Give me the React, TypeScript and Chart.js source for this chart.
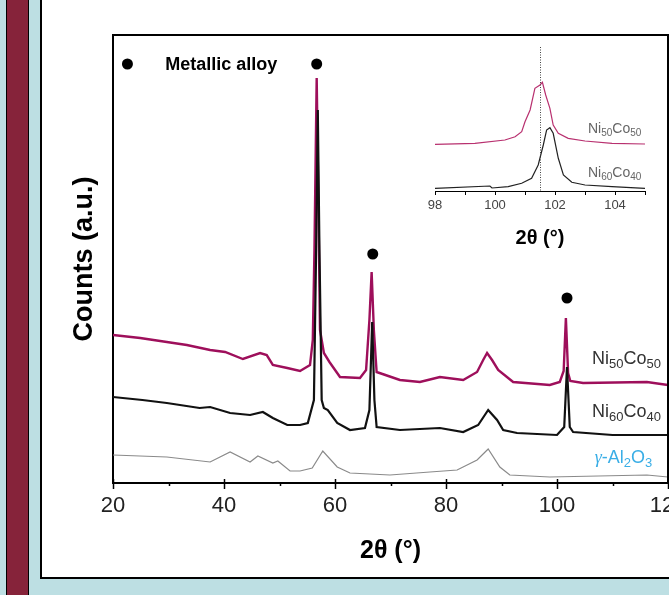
import React, { useEffect, useRef } from "react";
import { Chart, registerables } from "chart.js";

Chart.register(...registerables);

// ---------- Main pattern: 2θ (°) vs counts (a.u.) ----------
const theta5050 = [20, 24.9, 29.7, 33.3, 37.5, 40.2, 43.4, 46.5, 47.7, 48.8, 51.4, 53.7, 55.5, 56.0, 56.3, 56.7, 57.0, 57.3, 58.0, 59.0, 60.9, 64.5, 65.6, 66.2, 66.6, 67.0, 67.5, 71.7, 75.3, 78.9, 83.1, 85.6, 86.7, 87.4, 88.3, 89.4, 92.1, 98.7, 100.5, 101.2, 101.6, 102.0, 102.4, 104.7, 116.2, 120];
const counts5050 = [148, 145, 141, 138, 133, 131, 124, 130, 128, 118, 115, 112, 118, 143, 233, 405, 283, 153, 130, 121, 106, 105, 113, 163, 211, 153, 111, 103, 101, 106, 103, 111, 123, 130, 123, 113, 101, 98, 101, 112, 165, 110, 102, 100, 101, 98];

const theta6040 = [20, 25.3, 29.7, 35.6, 37.5, 41.1, 44.7, 47.0, 48.8, 51.4, 53.7, 55.1, 56.2, 56.6, 56.9, 57.2, 57.6, 58.0, 58.7, 60.4, 62.7, 65.4, 66.2, 66.7, 67.1, 67.5, 71.7, 78.9, 83.1, 85.8, 87.6, 89.2, 90.3, 92.8, 100.0, 101.3, 101.8, 102.3, 102.9, 110, 120];
const counts6040 = [86, 83, 80, 75, 76, 70, 68, 71, 65, 58, 58, 60, 83, 233, 373, 233, 83, 75, 73, 60, 53, 55, 73, 161, 83, 56, 53, 55, 51, 58, 73, 63, 53, 50, 48, 56, 116, 56, 51, 48, 48];

const thetaAl2O3 = [20, 29.7, 37.5, 41.1, 44.7, 46.1, 48.8, 49.7, 51.9, 53.7, 55.9, 57.8, 60.4, 62.7, 69.9, 77.1, 82.0, 85.6, 87.6, 89.7, 91.5, 98.7, 116.2, 120];
const countsAl2O3 = [28, 26, 21, 31, 21, 27, 20, 22, 12, 12, 15, 32, 16, 10, 8, 11, 13, 23, 34, 16, 8, 6, 8, 6];

const alloyMarkTheta = [22.6, 56.7, 66.8, 101.8];
const alloyMarkCounts = [419, 419, 229, 185];

const mainMajorTicks = [20, 40, 60, 80, 100, 120];
const mainMinorTicks = [30, 50, 70, 90, 110];

// ---------- Inset: 98–105° region ----------
const insetTheta5050 = [98, 99.33, 100.33, 100.67, 100.89, 101.0, 101.17, 101.33, 101.5, 101.58, 101.69, 101.83, 101.94, 102.11, 102.44, 103.0, 103.9, 105];
const insetCounts5050 = [46.7, 47.7, 51, 54.3, 59.3, 69.3, 81, 102.7, 106, 108.7, 96, 82.7, 66, 57.7, 52.7, 50, 47.7, 47];

const insetTheta6040 = [98, 99.83, 99.9, 100.44, 100.89, 101.22, 101.44, 101.61, 101.72, 101.83, 101.94, 102.11, 102.28, 102.56, 103.0, 103.9, 105];
const insetCounts6040 = [2.7, 5, 3, 4.3, 7.7, 12.7, 26, 46, 61, 63.3, 57.7, 32.7, 16, 8.7, 6, 4.3, 2.7];

const insetLabelTicks = [98, 100, 102, 104];
const insetRefTheta = 101.5;

const SANS = "'Liberation Sans', Arial, sans-serif";
const SERIF = "'Liberation Serif', 'Times New Roman', serif";

type Seg = { t: string; sub?: boolean; italic?: boolean; serif?: boolean };

function drawRich(ctx: CanvasRenderingContext2D, segs: Seg[], x: number, cy: number, size: number, subSize: number, color: string) {
  let cx = x;
  const base = cy + size * 0.358;
  ctx.fillStyle = color;
  ctx.textBaseline = "alphabetic";
  ctx.textAlign = "left";
  for (const s of segs) {
    const fs = s.sub ? subSize : size;
    ctx.font = `${s.italic ? "italic " : ""}${fs}px ${s.serif ? SERIF : SANS}`;
    const y = s.sub ? base + size * 0.2 : base;
    ctx.fillText(s.t, cx, y);
    cx += ctx.measureText(s.t).width;
  }
}

const pts = (xs: number[], ys: number[]) => xs.map((x, i) => ({ x, y: ys[i] }));

export default function App() {
  const mainRef = useRef<HTMLCanvasElement>(null);
  const insetRef = useRef<HTMLCanvasElement>(null);

  useEffect(() => {
    const mainDeco = {
      id: "mainDeco",
      afterDraw(chart: any) {
        const { ctx, chartArea: a, scales } = chart;
        const x = scales.x;
        const y = scales.y;
        ctx.save();
        ctx.strokeStyle = "#000";
        ctx.lineWidth = 2;
        ctx.beginPath();
        ctx.moveTo(a.left - 1, a.top);
        ctx.lineTo(a.right, a.top);
        ctx.lineTo(a.right, a.bottom);
        ctx.stroke();
        ctx.lineWidth = 1.5;
        for (const v of mainMajorTicks) {
          const px = Math.round(x.getPixelForValue(v)) + 0.5;
          ctx.beginPath();
          ctx.moveTo(px, a.bottom - 4);
          ctx.lineTo(px, a.bottom + 6);
          ctx.stroke();
        }
        for (const v of mainMinorTicks) {
          const px = Math.round(x.getPixelForValue(v)) + 0.5;
          ctx.beginPath();
          ctx.moveTo(px, a.bottom);
          ctx.lineTo(px, a.bottom + 3);
          ctx.stroke();
        }
        ctx.font = `bold 18px ${SANS}`;
        ctx.fillStyle = "#000";
        ctx.textBaseline = "middle";
        ctx.textAlign = "left";
        ctx.fillText("Metallic alloy", x.getPixelForValue(29.4), y.getPixelForValue(418));

        drawRich(ctx, [{ t: "Ni" }, { t: "50", sub: true }, { t: "Co" }, { t: "50", sub: true }],
          x.getPixelForValue(106.3), y.getPixelForValue(125), 18, 13, "#333");
        drawRich(ctx, [{ t: "Ni" }, { t: "60", sub: true }, { t: "Co" }, { t: "40", sub: true }],
          x.getPixelForValue(106.3), y.getPixelForValue(72), 18, 13, "#333");
        drawRich(ctx, [{ t: "γ", italic: true, serif: true }, { t: "-Al" }, { t: "2", sub: true }, { t: "O" }, { t: "3", sub: true }],
          x.getPixelForValue(106.8), y.getPixelForValue(26), 18, 13, "#3aaee6");
        ctx.restore();
      },
    };

    const main = new Chart(mainRef.current!, {
      type: "line",
      data: {
        datasets: [
          {
            data: pts(alloyMarkTheta, alloyMarkCounts),
            showLine: false,
            pointRadius: 5.5,
            pointBackgroundColor: "#000",
            pointBorderColor: "#000",
            pointBorderWidth: 0,
          },
          {
            data: pts(theta6040, counts6040),
            borderColor: "#111",
            borderWidth: 2.2,
            pointRadius: 0,
            tension: 0,
          },
          {
            data: pts(theta5050, counts5050),
            borderColor: "#9e0f5b",
            borderWidth: 2.4,
            pointRadius: 0,
            tension: 0,
          },
          {
            data: pts(thetaAl2O3, countsAl2O3),
            borderColor: "#8a8a8a",
            borderWidth: 1.2,
            pointRadius: 0,
            tension: 0,
          },
        ],
      },
      options: {
        responsive: false,
        animation: false,
        events: [],
        layout: { padding: { left: 68.8, top: 35, right: 52, bottom: 29 } },
        plugins: { legend: { display: false }, tooltip: { enabled: false } },
        scales: {
          x: {
            type: "linear",
            min: 20,
            max: 120,
            grid: { display: false, drawTicks: false },
            border: { display: true, color: "#000", width: 2 },
            ticks: {
              stepSize: 20,
              padding: 10,
              autoSkip: false,
              maxRotation: 0,
              color: "#222",
              font: { family: SANS, size: 22 },
            },
            title: {
              display: true,
              text: "2θ (°)",
              color: "#000",
              font: { family: SANS, size: 25, weight: "bold" },
              padding: { top: 6.6, bottom: 0 },
            },
          },
          y: {
            type: "linear",
            min: 0,
            max: 448,
            grid: { display: false, drawTicks: false },
            border: { display: true, color: "#000", width: 2 },
            ticks: { display: false },
            title: {
              display: true,
              text: "Counts (a.u.)",
              color: "#000",
              font: { family: SANS, size: 27, weight: "bold" },
              padding: { top: 0, bottom: 11.8 },
            },
          },
        },
      },
      plugins: [mainDeco],
    } as any);

    const insetDeco = {
      id: "insetDeco",
      afterDatasetsDraw(chart: any) {
        const { ctx, chartArea: a, scales } = chart;
        const x = scales.x;
        const y = scales.y;
        ctx.save();
        const px = Math.round(x.getPixelForValue(insetRefTheta)) + 0.5;
        ctx.strokeStyle = "#444";
        ctx.lineWidth = 1;
        ctx.setLineDash([1, 1.5]);
        ctx.beginPath();
        ctx.moveTo(px, y.getPixelForValue(144));
        ctx.lineTo(px, a.bottom);
        ctx.stroke();
        ctx.setLineDash([]);
        drawRich(ctx, [{ t: "Ni" }, { t: "50", sub: true }, { t: "Co" }, { t: "50", sub: true }],
          x.getPixelForValue(103.1), y.getPixelForValue(63), 14, 10, "#666");
        drawRich(ctx, [{ t: "Ni" }, { t: "60", sub: true }, { t: "Co" }, { t: "40", sub: true }],
          x.getPixelForValue(103.1), y.getPixelForValue(19), 14, 10, "#666");
        ctx.restore();
      },
    };

    const inset = new Chart(insetRef.current!, {
      type: "line",
      data: {
        datasets: [
          {
            data: pts(insetTheta6040, insetCounts6040),
            borderColor: "#222",
            borderWidth: 1.2,
            pointRadius: 0,
            tension: 0,
          },
          {
            data: pts(insetTheta5050, insetCounts5050),
            borderColor: "#b8306f",
            borderWidth: 1.2,
            pointRadius: 0,
            tension: 0,
          },
        ],
      },
      options: {
        responsive: false,
        animation: false,
        events: [],
        layout: { padding: { left: 435, top: 47, right: 75, bottom: 345 } },
        plugins: { legend: { display: false }, tooltip: { enabled: false } },
        scales: {
          x: {
            type: "linear",
            min: 98,
            max: 105,
            grid: { display: true, drawOnChartArea: false, drawTicks: true, tickLength: 4, color: "#000", lineWidth: 1 },
            border: { display: true, color: "#000", width: 1 },
            ticks: {
              stepSize: 1,
              padding: 2.2,
              autoSkip: false,
              maxRotation: 0,
              color: "#444",
              font: { family: SANS, size: 13 },
              callback: (v: any) => (insetLabelTicks.includes(Number(v)) ? String(v) : ""),
            },
            title: {
              display: true,
              text: "2θ (°)",
              color: "#000",
              font: { family: SANS, size: 20, weight: "bold" },
              padding: { top: 11, bottom: 0 },
            },
          },
          y: { type: "linear", display: false, min: 0, max: 144 },
        },
      },
      plugins: [insetDeco],
    } as any);

    return () => {
      main.destroy();
      inset.destroy();
    };
  }, []);

  return (
    <div style={{ position: "fixed", left: 0, top: 0, width: 669, height: 595, overflow: "hidden", background: "#bddfe3" }}>
      <div style={{ position: "absolute", left: 6, top: 0, width: 23, height: 595, boxSizing: "border-box", background: "#86233a", borderLeft: "1px solid #000", borderRight: "1px solid #000" }} />
      <div style={{ position: "absolute", left: 40, top: -2, width: 720, height: 581, boxSizing: "border-box", background: "#fff", border: "2px solid #000" }} />
      <canvas ref={mainRef} width={720} height={595} style={{ position: "absolute", left: 0, top: 0, width: 720, height: 595 }} />
      <canvas ref={insetRef} width={720} height={595} style={{ position: "absolute", left: 0, top: 0, width: 720, height: 595 }} />
    </div>
  );
}
